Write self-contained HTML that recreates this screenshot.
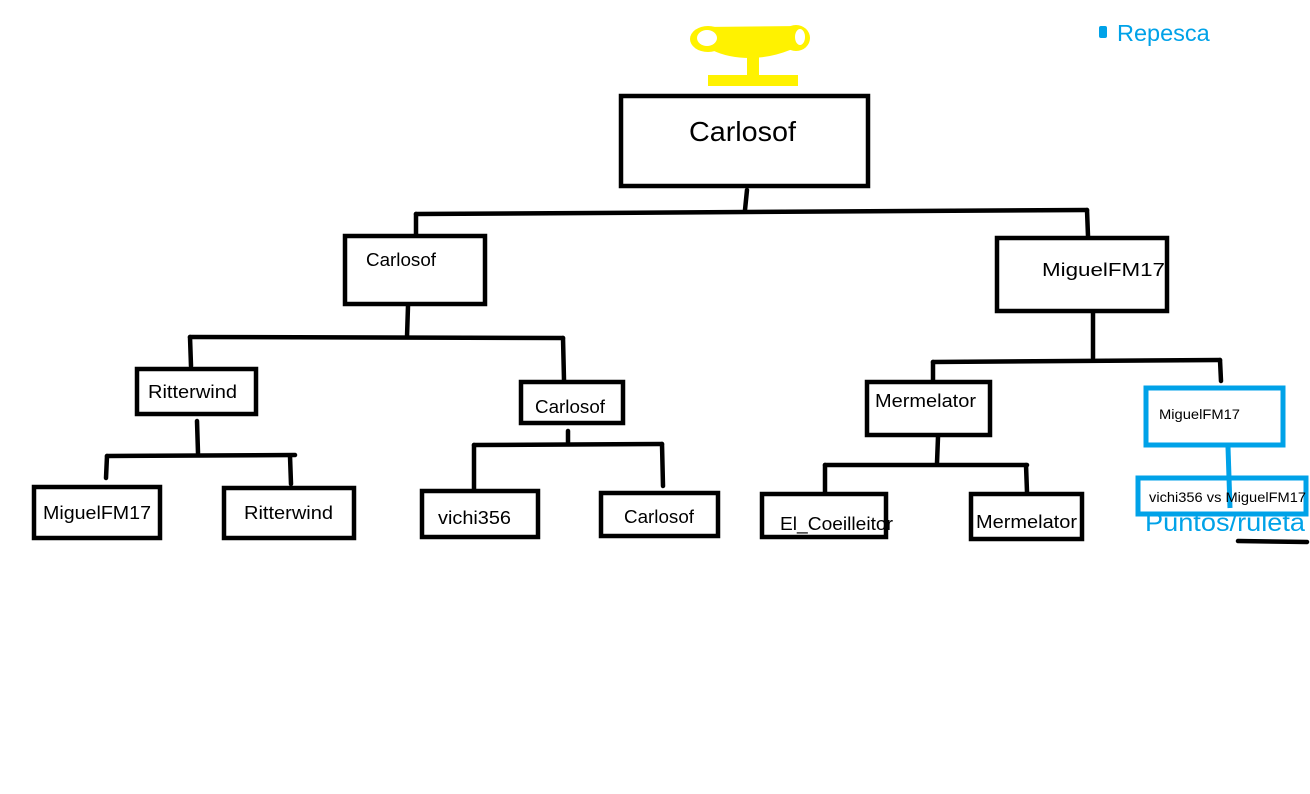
<!DOCTYPE html>
<html><head><meta charset="utf-8"><style>
html,body{margin:0;padding:0;background:#fff;}
svg{display:block;}
text{font-family:"Liberation Sans",sans-serif;fill:#000;}
</style></head><body>
<svg width="1310" height="794" viewBox="0 0 1310 794" xmlns="http://www.w3.org/2000/svg">
<!-- trophy -->
<g fill="#fff200">
<ellipse cx="708" cy="39" rx="18" ry="13"/>
<ellipse cx="796" cy="38" rx="14" ry="13"/>
<path d="M703 27 L800 26 Q798 46 790 50 Q770 58 750 58 Q728 58 712 50 Q705 45 703 27 Z"/>
<rect x="747" y="55" width="12" height="20"/>
<rect x="708" y="75" width="90" height="11"/>
</g>
<ellipse cx="707" cy="38" rx="10" ry="8" fill="#fff"/>
<ellipse cx="800" cy="37" rx="5" ry="8" fill="#fff"/>
<g fill="none" stroke="#000" stroke-width="4.5">
<rect x="621" y="96" width="247" height="90"/>
<rect x="345" y="236" width="140" height="68"/>
<rect x="997" y="238" width="170" height="73"/>
<rect x="137" y="369" width="119" height="45"/>
<rect x="521" y="382" width="102" height="41"/>
<rect x="867" y="382" width="123" height="53"/>
<rect x="34" y="487" width="126" height="51"/>
<rect x="224" y="488" width="130" height="50"/>
<rect x="422" y="491" width="116" height="46"/>
<rect x="601" y="493" width="117" height="43"/>
<rect x="762" y="494" width="124" height="43"/>
<rect x="971" y="494" width="111" height="45"/>
</g>
<g stroke="#000" stroke-width="4.5" stroke-linecap="round" fill="none">
<path d="M747 190 L745 210"/>
<path d="M416 214 L1087 210"/>
<path d="M416 214 L416 234"/>
<path d="M1087 210 L1088 236"/>
<path d="M408 306 L407 337"/>
<path d="M190 337 L563 338"/>
<path d="M190 337 L191 366"/>
<path d="M563 338 L564 380"/>
<path d="M1093 313 L1093 358"/>
<path d="M933 362 L1220 360"/>
<path d="M933 362 L933 380"/>
<path d="M1220 360 L1221 381"/>
<path d="M197 421 L198 453"/>
<path d="M107 456 L295 455"/>
<path d="M107 456 L106 478"/>
<path d="M290 456 L291 484"/>
<path d="M568 431 L568 442"/>
<path d="M474 445 L662 444"/>
<path d="M474 445 L474 489"/>
<path d="M662 444 L663 486"/>
<path d="M938 437 L937 463"/>
<path d="M825 465 L1027 465"/>
<path d="M825 465 L825 492"/>
<path d="M1026 465 L1027 492"/>
<path d="M1238 541 L1307 542"/>
</g>
<g fill="none" stroke="#00a2e8" stroke-width="5">
<rect x="1146" y="388" width="137" height="57"/>
<rect x="1138" y="478" width="168" height="36"/>
<path d="M1228 447 L1230 508"/>
</g>
<rect x="1099" y="26" width="8" height="12" rx="2" fill="#00a2e8"/>
<text x="1117" y="41" font-size="23.5" style="fill:#00a2e8">Repesca</text>
<text x="1145" y="531" font-size="25" style="fill:#00a2e8" textLength="160" lengthAdjust="spacingAndGlyphs">Puntos/ruleta</text>
<text x="689" y="141" font-size="28" textLength="107" lengthAdjust="spacingAndGlyphs">Carlosof</text>
<text x="366" y="266" font-size="18" textLength="70" lengthAdjust="spacingAndGlyphs">Carlosof</text>
<text x="1042" y="276" font-size="18" textLength="123" lengthAdjust="spacingAndGlyphs">MiguelFM17</text>
<text x="148" y="398" font-size="18" textLength="89" lengthAdjust="spacingAndGlyphs">Ritterwind</text>
<text x="535" y="413" font-size="18" textLength="70" lengthAdjust="spacingAndGlyphs">Carlosof</text>
<text x="875" y="407" font-size="18" textLength="101" lengthAdjust="spacingAndGlyphs">Mermelator</text>
<text x="1159" y="419" font-size="13.5" textLength="81" lengthAdjust="spacingAndGlyphs">MiguelFM17</text>
<text x="43" y="519" font-size="18" textLength="108" lengthAdjust="spacingAndGlyphs">MiguelFM17</text>
<text x="244" y="519" font-size="18" textLength="89" lengthAdjust="spacingAndGlyphs">Ritterwind</text>
<text x="438" y="524" font-size="18" textLength="73" lengthAdjust="spacingAndGlyphs">vichi356</text>
<text x="624" y="523" font-size="18" textLength="70" lengthAdjust="spacingAndGlyphs">Carlosof</text>
<text x="780" y="530" font-size="18" textLength="113" lengthAdjust="spacingAndGlyphs">El_Coeilleitor</text>
<text x="976" y="528" font-size="18" textLength="101" lengthAdjust="spacingAndGlyphs">Mermelator</text>
<text x="1149" y="502" font-size="14" textLength="157" lengthAdjust="spacingAndGlyphs">vichi356 vs MiguelFM17</text>
</svg>
</body></html>
